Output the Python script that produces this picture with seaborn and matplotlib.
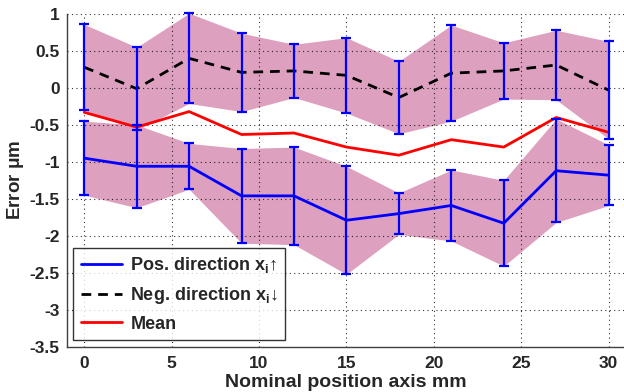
import matplotlib
matplotlib.use("Agg")
import matplotlib.pyplot as plt
import seaborn as sns
import pandas as pd
import numpy as np

# ---- data ----
positions = [0, 3, 6, 9, 12, 15, 18, 21, 24, 27, 30]
pos_mean = [-0.95, -1.06, -1.06, -1.46, -1.46, -1.79, -1.70, -1.59, -1.83, -1.12, -1.18]
pos_err = [0.50, 0.56, 0.31, 0.64, 0.66, 0.73, 0.28, 0.48, 0.58, 0.70, 0.41]
neg_mean = [0.28, -0.01, 0.40, 0.21, 0.23, 0.17, -0.13, 0.20, 0.23, 0.31, -0.03]
neg_err = [0.58, 0.56, 0.61, 0.53, 0.36, 0.51, 0.49, 0.65, 0.38, 0.47, 0.66]
mean_vals = [-0.33, -0.53, -0.32, -0.63, -0.61, -0.80, -0.91, -0.70, -0.80, -0.40, -0.60]

labels = [r"Pos. direction x$_\mathbf{i}$↑", r"Neg. direction x$_\mathbf{i}$↓", "Mean"]
x_ticks = [0, 5, 10, 15, 20, 25, 30]
y_ticks = [1, 0.5, 0, -0.5, -1, -1.5, -2, -2.5, -3, -3.5]

sns.set_style("white")
plt.rcParams["font.family"] = ["Liberation Sans", "DejaVu Sans"]
plt.rcParams["font.weight"] = "bold"
plt.rcParams["mathtext.fontset"] = "custom"
plt.rcParams["mathtext.bf"] = "Liberation Sans:bold"
plt.rcParams["mathtext.rm"] = "Liberation Sans:bold"
plt.rcParams["mathtext.it"] = "Liberation Sans:bold"

df = pd.DataFrame({
    "pos": positions,
    "pos_mean": pos_mean, "pos_err": pos_err,
    "neg_mean": neg_mean, "neg_err": neg_err,
    "mean": mean_vals,
})

fig = plt.figure(figsize=(6.24, 3.92), dpi=100)
ax = fig.add_axes([0.107, 0.1156, 0.893, 0.8487])

fill_c = "#DDA0BF"
pm = np.array(pos_mean); pe = np.array(pos_err)
nm = np.array(neg_mean); ne = np.array(neg_err)
ax.fill_between(df["pos"], nm - ne, nm + ne, color=fill_c, lw=0, zorder=0.5)
ax.fill_between(df["pos"], pm - pe, pm + pe, color=fill_c, lw=0, zorder=0.5)

sns.lineplot(data=df, x="pos", y="pos_mean", color="#0000FF", lw=2, ax=ax,
             label=labels[0], zorder=3)
sns.lineplot(data=df, x="pos", y="neg_mean", color="black", lw=2, ax=ax,
             label=labels[1], zorder=3, linestyle=(0, (3.5, 2.5)))
sns.lineplot(data=df, x="pos", y="mean", color="#FF0000", lw=2, ax=ax,
             label=labels[2], zorder=3)

ax.errorbar(df["pos"], df["pos_mean"], yerr=df["pos_err"], fmt="none",
            ecolor="#0000FF", elinewidth=1.6, capsize=3.3, capthick=1.6, zorder=4)
ax.errorbar(df["pos"], df["neg_mean"], yerr=df["neg_err"], fmt="none",
            ecolor="#0000FF", elinewidth=1.6, capsize=3.3, capthick=1.6, zorder=4,
            clip_on=False)

ax.set_xlim(-1, 30.88)
ax.set_ylim(-3.5, 1)
ax.set_xticks(x_ticks)
ax.set_yticks(y_ticks)
ax.set_xticklabels([str(t) for t in x_ticks], fontsize=12.5, fontweight="bold")
ax.set_yticklabels([("%g" % t) for t in y_ticks], fontsize=12.5, fontweight="bold")

ax.set_axisbelow("line")
ax.grid(True, color="black", linestyle=(0, (1, 3)), lw=0.8, alpha=0.8)

for s in ["top", "right"]:
    ax.spines[s].set_visible(False)
for s in ["left", "bottom"]:
    ax.spines[s].set_color("#404040")
    ax.spines[s].set_linewidth(1.0)
ax.tick_params(direction="in", length=4, width=0.8, color="#404040", pad=5)
ax.tick_params(axis="x", pad=7)

ax.set_xlabel("Nominal position axis mm", fontsize=14, fontweight="bold", labelpad=2)
ax.set_ylabel(r"Error $\mathregular{\mu}$m", fontsize=13.5, fontweight="bold", labelpad=3)

leg = ax.legend(loc="lower left", bbox_to_anchor=(0.012, 0.02), borderaxespad=0,
                fontsize=13, frameon=True, fancybox=False, edgecolor="black",
                handlelength=2.3, handletextpad=0.45, labelspacing=0.55,
                borderpad=0.4)
leg.get_frame().set_linewidth(1.0)
for t in leg.get_texts():
    t.set_fontweight("bold")

fig.savefig("out.png", dpi=100)
